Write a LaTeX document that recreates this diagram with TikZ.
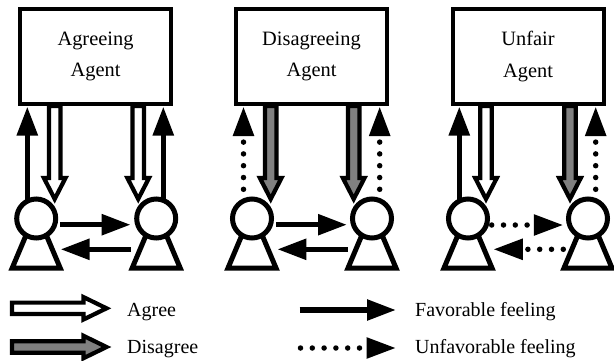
\documentclass[tikz,border=0pt]{standalone}
\usepackage{fontspec}
\setmainfont{Liberation Serif}
\usetikzlibrary{arrows.meta}
\definecolor{dis}{RGB}{128,128,128}
\tikzset{x=1pt,y=-1pt,
  legendlbl/.style={inner sep=0pt,anchor=base west,font=\fontsize{20}{24}\selectfont},
  agentbox/.style={draw,line width=4pt,fill=white,minimum width=151pt,minimum height=95pt,inner sep=0pt,align=center,font=\fontsize{20.4}{31.5}\selectfont},
  head/.style={draw,line width=5pt,circle,fill=white,minimum size=39pt,inner sep=0pt},
  body/.style={draw,line width=5pt,line join=miter,fill=white},
  solidarrow/.style={line width=5.5pt,-{Triangle[length=29pt,width=20pt]}},
  dotarrow/.style={line width=5.5pt,dash pattern=on 0pt off 11.8pt,line cap=round,-{Triangle[length=29.5pt,width=20pt]}},
  hollow/.style={fill=#1,draw=black,line width=4.2pt,line join=miter},
}
% start coordinate, fill, rotation, length of the block arrow, head length, head half width
\newcommand{\bigarrow}[6]{%
  \begin{scope}[shift={(#1)},rotate=#3]
   \path[hollow=#2] (0,-5.7) -- (#4-#5,-5.7) -- (#4-#5,-#6) -- (#4,0) -- (#4-#5,#6) -- (#4-#5,5.7) -- (0,5.7) -- cycle;
  \end{scope}}
% name, x, y of the head centre
\newcommand{\person}[3]{%
  \path[body] (#2-9,#3+14) -- (#2-24,#3+49.5) -- (#2+24,#3+49.5) -- (#2+9,#3+14) -- cycle;
  \node[head] (#1) at (#2,#3) {};
}
\begin{document}
\begin{tikzpicture}
\useasboundingbox (0,0) rectangle (614,360);
\fill[white] (0,0) rectangle (614,360);
% vertical feeling arrows
\coordinate (a1u) at (27.3,200); \coordinate (a1t) at (27.3,106.5);
\coordinate (a2u) at (163.3,200); \coordinate (a2t) at (163.3,106.5);
\coordinate (b1u) at (243.5,189.3); \coordinate (b1t) at (243.5,106.5);
\coordinate (b2u) at (379.7,189.3); \coordinate (b2t) at (379.7,106.5);
\coordinate (c1u) at (459.3,200); \coordinate (c1t) at (459.3,106.5);
\coordinate (c2u) at (595.7,189.3); \coordinate (c2t) at (595.7,106.5);
\draw[solidarrow] (a1u) -- (a1t);
\draw[solidarrow] (a2u) -- (a2t);
\draw[dotarrow] (b1u) -- (b1t);
\draw[dotarrow] (b2u) -- (b2t);
\draw[solidarrow] (c1u) -- (c1t);
\draw[dotarrow] (c2u) -- (c2t);
% boxes
\node[agentbox] (A) at (95.5,56.5) {Agreeing\\Agent};
\node[agentbox] (B) at (311.5,56.5) {Disagreeing\\Agent};
\node[agentbox] (C) at (528,56.5) {Unfair\\Agent};
% people
\person{a1}{36.2}{218.5}
\person{a2}{156.2}{218.5}
\person{b1}{252}{218.5}
\person{b2}{372}{218.5}
\person{c1}{468}{218.5}
\person{c2}{588}{218.5}
% block arrows
\coordinate (p1) at (54.7,106); \bigarrow{p1}{white}{-90}{93}{21}{10.8}
\coordinate (p2) at (138.2,106); \bigarrow{p2}{white}{-90}{93}{21}{10.8}
\coordinate (p3) at (270.7,106); \bigarrow{p3}{dis}{-90}{93}{21}{10.8}
\coordinate (p4) at (353.7,106); \bigarrow{p4}{dis}{-90}{93}{21}{10.8}
\coordinate (p5) at (486,106); \bigarrow{p5}{white}{-90}{93}{21}{10.8}
\coordinate (p6) at (570,106); \bigarrow{p6}{dis}{-90}{93}{21}{10.8}
% horizontal feeling arrows
\coordinate (h1s) at (60,224.7); \coordinate (h1e) at (130.7,224.7);
\coordinate (h2s) at (131,249.3); \coordinate (h2e) at (60.5,249.3);
\coordinate (h3s) at (276,224.7); \coordinate (h3e) at (347,224.7);
\coordinate (h4s) at (347.7,249.3); \coordinate (h4e) at (277.3,249.3);
\coordinate (h5s) at (491.7,225); \coordinate (h5e) at (563.3,225);
\coordinate (h6s) at (563.3,249.3); \coordinate (h6e) at (493.3,249.3);
\draw[solidarrow] (h1s) -- (h1e);
\draw[solidarrow] (h2s) -- (h2e);
\draw[solidarrow] (h3s) -- (h3e);
\draw[solidarrow] (h4s) -- (h4e);
\draw[dotarrow] (h5s) -- (h5e);
\draw[dotarrow] (h6s) -- (h6e);
% legend
\coordinate (l1) at (12,308.3); \bigarrow{l1}{white}{0}{94.5}{23}{11.2}
\coordinate (l2) at (12,347); \bigarrow{l2}{dis}{0}{94.5}{23}{11.2}
\node[legendlbl] (t1) at (127,316) {Agree};
\node[legendlbl] (t2) at (127,353) {Disagree};
\coordinate (l3) at (299.6,310); \coordinate (l3e) at (396,310);
\coordinate (l4) at (300.5,348); \coordinate (l4e) at (396,348);
\draw[solidarrow] (l3) -- (l3e);
\draw[dotarrow] (l4) -- (l4e);
\node[legendlbl] (t3) at (415,316) {Favorable feeling};
\node[legendlbl] (t4) at (415,353) {Unfavorable feeling};
\end{tikzpicture}
\end{document}
